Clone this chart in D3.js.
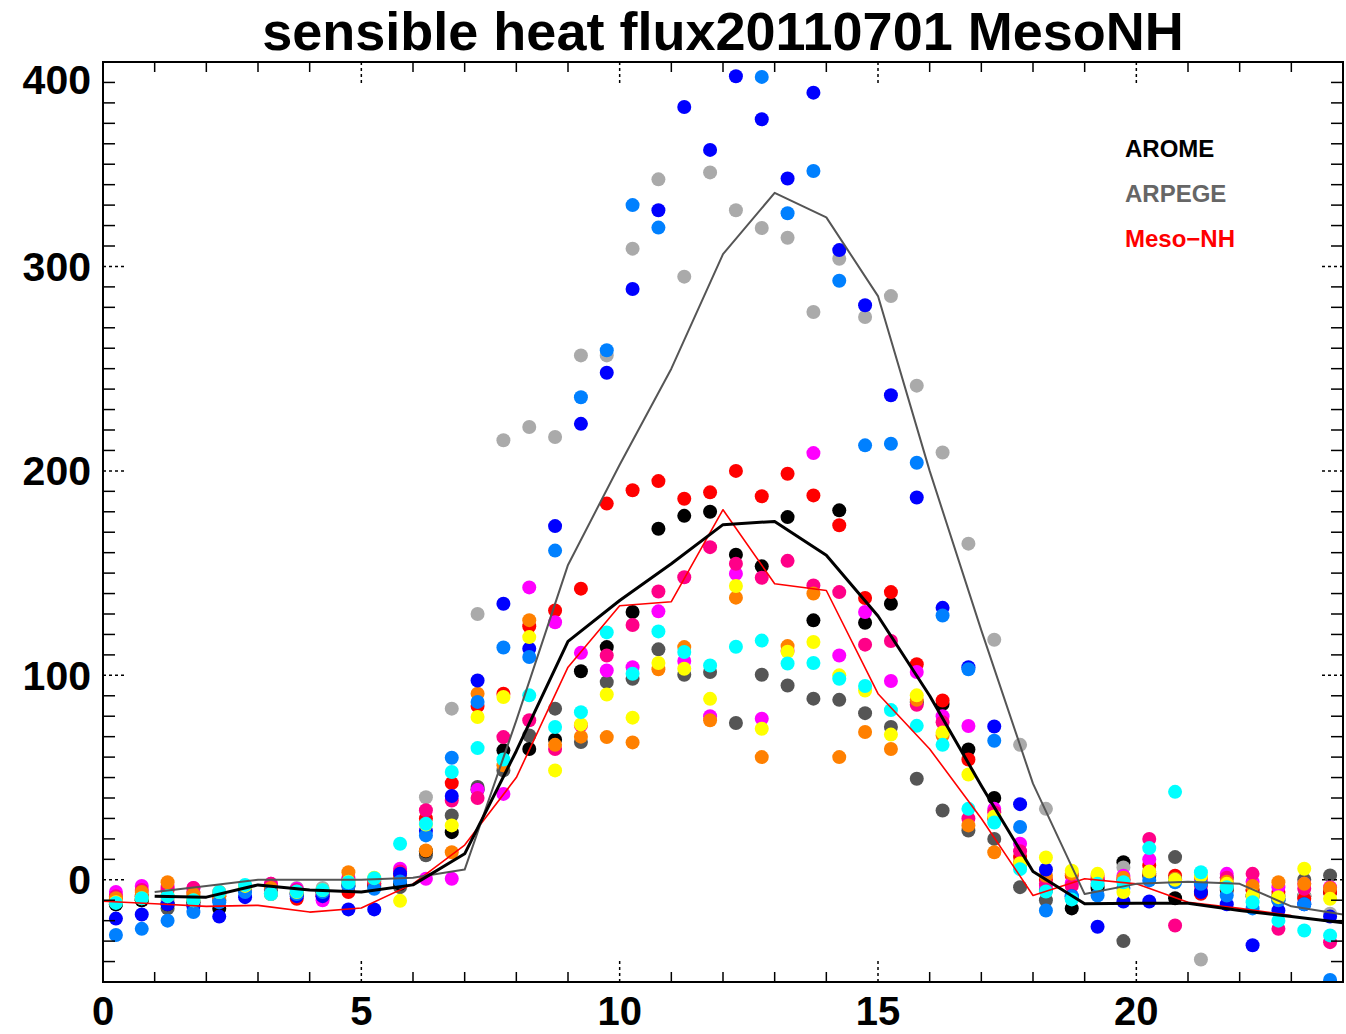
<!DOCTYPE html>
<html>
<head>
<meta charset="utf-8">
<script src="https://cdn.jsdelivr.net/npm/d3@7"></script>
<style>
  body { margin: 0; background: #fff; }
  svg { display: block; font-family: "Liberation Sans", Arial, Helvetica, sans-serif; }
</style>
</head>
<body>
<div id="chart"></div>
<script>
// half-hourly observation times (hours)
const obsTimes = d3.range(0.25, 24, 0.5);
// hourly model output times
const modelHours = d3.range(0, 25, 1);

// observation stations, sensible heat flux (W/m2), one value per half hour
const stBlue = [-19,-17,-12,-13,-18,-8.5,-7,-8,-8,-14.5,-14.5,3,24,41,97.5,135,113,173,223,248,289,327.5,378,357,393,372,343,385,308,281,237,187,133,104,75,37,5,-8,-23,-10.6,-10.6,0,-6,-12,-32,-15,-12,-18];
const stDodger = [-27,-24,-20,-15.8,-11,-6,-6,-7,-6,-3,-4.4,-0.8,21.7,59.7,87,113.6,109,161,236,259,330,319,null,null,null,392.7,326,346.7,293,212.5,213.3,204,129.3,103,68,25.8,-15,-8,-7.7,-4,-0.3,-1.2,-2,-7.7,-14,-10,-12,-49];
const stLightGrey = [-10,-8,-10,-8,-6,-3,-3,-4,-4,0,0,2,40.4,83.7,130,215,221.5,216.6,256.5,256.5,308.7,342.6,295,346,327.5,318.8,314,277.7,303.8,275.3,285.5,241.7,209,164.4,117.4,66,34.7,-2,-2,6,4,0,-39,-3,-8,-10,-8,-16.6];
const stDarkGrey = [-12,-10,-14,-12,-10,-5,-5,-7,-6,-2,-2,-3.6,12,31.5,45.4,53.5,70.6,83.7,67.4,96.7,98.3,112.7,100.3,101.6,76.7,100.3,95,88.6,88,81.5,74.7,49.4,33.9,24.1,20,-3.6,-10,-9,-3,-30,3,11.1,-2,1,-5,-8,0,2.1];
const stBlack = [-12,-10,-12,-11,-14.2,-5,-5,-7,-6,-3,-3,-2,14,23.3,44,63.3,64,68.5,102,113.8,131,171.7,178,180,159,153.3,177.4,126.9,180.7,125.7,135,87,86,63.7,40,8,-5,-14,-4,8.6,2,-9,-6,-5,-8,-10,-8,-6];
const stRed = [-10,-8,-5,-6,-8,-4,-4,-9.3,-8,-6,-2,2,30,47.3,85,91,124,131.7,142.4,184,190.5,195,186.4,189.5,200,187.6,198.6,188,173.4,137.8,140.7,105.4,87.7,58.8,30,11.1,0,2,0,0,7,2,-6.8,-4,-5,-6,-9.3,-6];
const stMagenta = [-6,-3,-3,-4,-6,-3,-2,-4.4,-10,1,0,5.4,0.5,0.5,44,42,143,126,111,102.4,104,131.3,107,80,149.7,78.8,112,208.7,109.7,131,97.2,101.6,80,75.2,34.7,17.6,-3,-1.5,1,2,10,0,0,2.9,-1,-3.6,-2,-3.6];
const stDeepPink = [-8,-5,-4,-4,-7,-4,-2,-5,-8,0,-1,4,34,38.8,40,69.8,78,64,75.5,109.7,124.6,141,148,162.7,154.6,147.7,156,144,140.7,115,116.8,85.6,77,30,33,14,-2,-3,0,0,20,-22.4,-3,1,2.9,-24,-4.4,-30.5];
const stCyan = [-11.3,-9,-8,-10,-6,-2.5,-7,-5.7,-5,-1.2,0.8,17.6,27.4,52.7,64.4,58.8,90.2,74.7,82,121,100.8,121.5,111.4,104.8,114,117,105.8,106,98.3,94.8,83,75.3,66,34.7,28,5.2,-5.7,-9.6,-2,-1.2,15.5,43,3.7,-3.6,-11,-20,-24.8,-27.2];
const stYellow = [-11,-9,-8,-10,-6,-3,-7,-6,-5,-1,1,-10.3,27,26.6,79.6,89.4,118.7,53.5,76,90.6,79.3,106,103.2,88.5,143.7,73.9,111.5,116.3,100,92.6,71,90.2,72,51.5,31,8,10.9,4.4,2.9,-6,4,0,2,-2,-7.7,-8.5,5.4,-9.3];
const stOrange = [-9,-6,-1.2,-7,-8,-4,-4,-6,-6,3.7,0,1,14.3,13.5,91,56,127,66,70,69.8,67.2,103,113.8,78,138,60,114.3,140,60,72.3,64,88,70.6,26.6,13.5,8,2,3,2,1,3,0.5,1,-1,-3,-1.2,-2,-4];

// model runs, hourly
const arome = [null,-8,-8.5,-2.5,-5,-6,-2.5,12.7,63,116.6,136.6,154.6,173.7,175.3,158.7,129,90,46,4,-11.7,-11.5,-11.5,-15,-18,-21];
const arpege = [null,-6,-3,0,0,0,1,5,78,154,203,250,306,336,324,285.5,200,122,47,-7,-2,-1,-2,-13,-17];
const mesoNH = [-10.5,-11.7,-13,-12.5,-15.8,-13.8,-2,17,50,104,134,136,181,144.8,141.5,91,64,30,-7.7,0.5,-2,-11,-14,-17.5,null];

const xLabels = [0, 5, 10, 15, 20];
const yLabels = [0, 100, 200, 300, 400];

const stations = [
  { color: "#555555", values: stDarkGrey },
  { color: "#000000", values: stBlack },
  { color: "#aaaaaa", values: stLightGrey },
  { color: "#ff0000", values: stRed },
  { color: "#ff00ff", values: stMagenta },
  { color: "#ff0088", values: stDeepPink },
  { color: "#ff8000", values: stOrange },
  { color: "#0000ff", values: stBlue },
  { color: "#0080ff", values: stDodger },
  { color: "#ffff00", values: stYellow },
  { color: "#00ffff", values: stCyan }
];

const models = [
  { name: "AROME", color: "#000000", width: 3, values: arome, labelColor: "#000000" },
  { name: "ARPEGE", color: "#555555", width: 2, values: arpege, labelColor: "#666666" },
  { name: "Meso\u2212NH", color: "#ff0000", width: 1.6, values: mesoNH, labelColor: "#ff0000" }
];

const width = 1346;
const height = 1034;
const plotLeft = 103, plotRight = 1343, plotTop = 62, plotBottom = 982;

const x = d3.scaleLinear().domain([0, 24]).range([plotLeft, plotRight]);
const y = d3.scaleLinear().domain([-50, 400]).range([plotBottom, plotTop]);

const svg = d3.select("#chart").append("svg")
  .attr("width", width)
  .attr("height", height);

svg.append("rect").attr("width", width).attr("height", height).attr("fill", "#fff");

// clip for marks
svg.append("clipPath").attr("id", "plot-clip")
  .append("rect")
  .attr("x", plotLeft).attr("y", plotTop)
  .attr("width", plotRight - plotLeft).attr("height", plotBottom - plotTop);

const gPlot = svg.append("g").attr("clip-path", "url(#plot-clip)");

const line = d3.line()
  .defined(d => d[1] != null)
  .x(d => x(d[0]))
  .y(d => y(d[1]));

// station dots
stations.forEach(s => {
  gPlot.append("g")
    .attr("fill", s.color)
    .selectAll("circle")
    .data(obsTimes.map((t, i) => [t, s.values[i]]).filter(d => d[1] != null))
    .join("circle")
    .attr("cx", d => x(d[0]))
    .attr("cy", d => y(d[1]))
    .attr("r", 7);
});

// model lines
models.slice().reverse().forEach(m => {
  gPlot.append("path")
    .datum(modelHours.map((h, i) => [h, m.values[i]]))
    .attr("fill", "none")
    .attr("stroke", m.color)
    .attr("stroke-width", m.width)
    .attr("stroke-linejoin", "round")
    .attr("d", line);
});

// frame + ticks (IDL style: minor solid, major dotted, all inward)
const gAxes = svg.append("g").attr("stroke", "#000").attr("stroke-width", 1.5);

const xMinor = d3.range(1, 24).filter(h => h % 5 !== 0);
const xMajor = [5, 10, 15, 20];
const yMinor = d3.range(-40, 400, 10).filter(v => v % 100 !== 0);
const yMajor = [0, 100, 200, 300];

gAxes.selectAll(".xminor")
  .data(xMinor.flatMap(h => [[h, plotBottom, plotBottom - 10], [h, plotTop, plotTop + 10]]))
  .join("line")
  .attr("x1", d => x(d[0])).attr("x2", d => x(d[0]))
  .attr("y1", d => d[1]).attr("y2", d => d[2]);

gAxes.selectAll(".xmajor")
  .data(xMajor.flatMap(h => [[h, plotBottom, plotBottom - 21], [h, plotTop, plotTop + 21]]))
  .join("line")
  .attr("stroke-dasharray", "3,3")
  .attr("x1", d => x(d[0])).attr("x2", d => x(d[0]))
  .attr("y1", d => d[1]).attr("y2", d => d[2]);

gAxes.selectAll(".yminor")
  .data(yMinor.flatMap(v => [[v, plotLeft, plotLeft + 12], [v, plotRight, plotRight - 12]]))
  .join("line")
  .attr("y1", d => y(d[0])).attr("y2", d => y(d[0]))
  .attr("x1", d => d[1]).attr("x2", d => d[2]);

gAxes.selectAll(".ymajor")
  .data(yMajor.flatMap(v => [[v, plotLeft, plotLeft + 21], [v, plotRight, plotRight - 21]]))
  .join("line")
  .attr("stroke-dasharray", "3,3")
  .attr("y1", d => y(d[0])).attr("y2", d => y(d[0]))
  .attr("x1", d => d[1]).attr("x2", d => d[2]);

svg.append("rect")
  .attr("x", plotLeft).attr("y", plotTop)
  .attr("width", plotRight - plotLeft).attr("height", plotBottom - plotTop)
  .attr("fill", "none")
  .attr("stroke", "#000")
  .attr("stroke-width", 2);

// tick labels
svg.append("g")
  .attr("font-size", 40)
  .attr("font-weight", "bold")
  .attr("text-anchor", "middle")
  .selectAll("text")
  .data(xLabels)
  .join("text")
  .attr("x", d => x(d))
  .attr("y", 1025)
  .text(d => d);

svg.append("g")
  .attr("font-size", 41)
  .attr("font-weight", "bold")
  .attr("text-anchor", "end")
  .selectAll("text")
  .data(yLabels)
  .join("text")
  .attr("x", 91)
  .attr("y", d => Math.max(y(d), 80))
  .attr("dy", "0.35em")
  .text(d => d);

// title
svg.append("text")
  .attr("x", 723)
  .attr("y", 50)
  .attr("text-anchor", "middle")
  .attr("font-size", 54)
  .attr("font-weight", "bold")
  .text("sensible heat flux20110701 MesoNH");

// legend
svg.append("g")
  .attr("font-size", 24)
  .attr("font-weight", "bold")
  .selectAll("text")
  .data(models)
  .join("text")
  .attr("x", 1125)
  .attr("y", (d, i) => 157 + i * 45)
  .attr("fill", d => d.labelColor)
  .text(d => d.name);
</script>
</body>
</html>
